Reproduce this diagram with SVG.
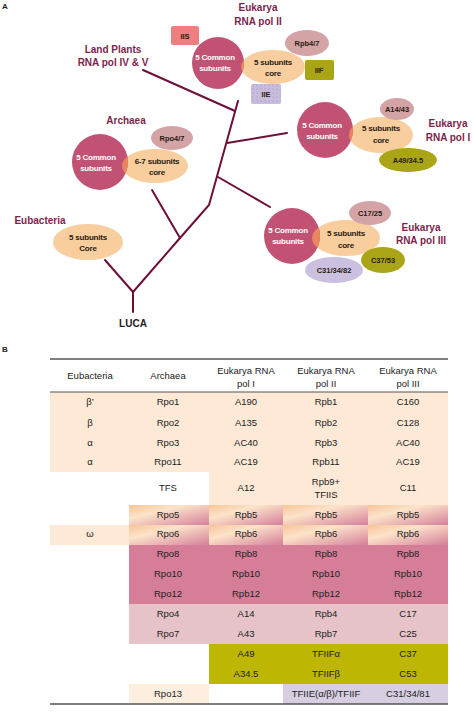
<svg xmlns="http://www.w3.org/2000/svg" width="474" height="716" viewBox="0 0 474 716">
<style>
text{font-family:"Liberation Sans",Arial,sans-serif;text-anchor:middle}
.lbl{font-size:10px;font-weight:bold;fill:#7D1F4C}
.cw{font-size:8px;font-weight:bold;fill:#ffffff;letter-spacing:-0.2px}
.cd{font-size:8px;font-weight:bold;fill:#2a1a10;letter-spacing:-0.2px}
.sm{font-size:7.5px;font-weight:bold;fill:#2a1a10}
.big{fill:#C2527398}
.big{fill:#C25273}
.core{fill:#F9CE9F}
.ovl{fill:#E8875E}
.rp{fill:#D3A3A6}
.ol{fill:#A9A516}
.lav{fill:#CBC0DF}
.br{stroke:#6E0F3A;stroke-width:2;fill:none;stroke-linecap:round}
.t{font-size:9.5px;fill:#222}
.h{font-size:9.5px;fill:#222}
</style>
<defs>
<clipPath id="c2"><circle cx="218" cy="63" r="26"/></clipPath>
<clipPath id="c1"><circle cx="325" cy="130" r="28"/></clipPath>
<clipPath id="c3"><circle cx="292" cy="236" r="28"/></clipPath>
<clipPath id="ca"><circle cx="100" cy="162" r="28"/></clipPath>
<pattern id="dots" width="4" height="4" patternUnits="userSpaceOnUse">
<rect width="4" height="4" fill="#C8BCDD"/><circle cx="1" cy="1" r="0.6" fill="#9C8DBB"/>
</pattern>
<linearGradient id="g" x1="0" y1="0" x2="1" y2="1">
<stop offset="0" stop-color="#F8C497"/><stop offset="0.35" stop-color="#FCE3C9"/><stop offset="1" stop-color="#D5809A"/>
</linearGradient>
</defs>

<text x="5" y="9" style="font-size:8px;font-weight:bold;fill:#222">A</text>

<g id="connectors">
<line class="br" x1="133" y1="312" x2="133" y2="292"/>
<line class="br" x1="133" y1="292" x2="105" y2="260"/>
<polyline class="br" points="133,292 180,238 209,205 238,101"/>
<line class="br" x1="180" y1="238" x2="152" y2="190"/>
<line class="br" x1="218" y1="177" x2="270" y2="207"/>
<line class="br" x1="227" y1="143" x2="287" y2="133"/>
<line class="br" x1="143" y1="70" x2="235" y2="111"/>
</g>

<g id="luca"><text x="133" y="327" style="font-size:10px;font-weight:bold;fill:#222">LUCA</text></g>

<g id="eubacteria">
<text class="lbl" x="40" y="224">Eubacteria</text>
<ellipse class="core" cx="88" cy="242" rx="35" ry="18"/>
<text class="cd" x="88" y="240">5 subunits</text>
<text class="cd" x="88" y="251">Core</text>
</g>

<g id="archaea">
<text class="lbl" x="126" y="124">Archaea</text>
<ellipse class="core" cx="155" cy="166" rx="33" ry="17"/>
<circle class="big" cx="100" cy="162" r="28"/>
<ellipse class="ovl" cx="155" cy="166" rx="33" ry="17" clip-path="url(#ca)"/>
<ellipse class="rp" cx="172" cy="138" rx="21" ry="12"/>
<text class="sm" x="172" y="141">Rpo4/7</text>
<text class="cw" x="96" y="160">5 Common</text>
<text class="cw" x="96" y="171">subunits</text>
<text class="cd" x="157" y="164">6-7 subunits</text>
<text class="cd" x="157" y="175">core</text>
</g>

<g id="landplants">
<text class="lbl" x="113" y="53">Land Plants</text>
<text class="lbl" x="113" y="66">RNA pol IV &amp; V</text>
</g>

<g id="pol2">
<text class="lbl" x="258" y="11">Eukarya</text>
<text class="lbl" x="258" y="25">RNA pol II</text>
<rect x="171" y="26" width="28" height="19" rx="2" fill="#EE7F80"/>
<text class="sm" x="185" y="39">IIS</text>
<ellipse class="core" cx="273" cy="67" rx="32" ry="17"/>
<circle class="big" cx="218" cy="63" r="26"/>
<ellipse class="ovl" cx="273" cy="67" rx="32" ry="17" clip-path="url(#c2)"/>
<ellipse class="rp" cx="307" cy="43" rx="22" ry="13"/>
<text class="sm" x="307" y="46">Rpb4/7</text>
<rect x="305" y="60" width="29" height="20" rx="2" class="ol"/>
<text class="sm" x="319" y="73">IIF</text>
<rect x="251" y="84" width="30" height="20" rx="2" fill="url(#dots)"/>
<text class="sm" x="266" y="97">IIE</text>
<text class="cw" x="215" y="60">5 Common</text>
<text class="cw" x="215" y="71">subunits</text>
<text class="cd" x="273" y="65">5 subunits</text>
<text class="cd" x="273" y="76">core</text>
</g>

<g id="pol1">
<text class="lbl" x="448" y="127">Eukarya</text>
<text class="lbl" x="448" y="141">RNA pol I</text>
<ellipse class="core" cx="381" cy="135" rx="32" ry="18"/>
<circle class="big" cx="325" cy="130" r="28"/>
<ellipse class="ovl" cx="381" cy="135" rx="32" ry="18" clip-path="url(#c1)"/>
<ellipse class="rp" cx="397" cy="109" rx="17" ry="11"/>
<text class="sm" x="397" y="112">A14/43</text>
<ellipse class="ol" cx="408" cy="160" rx="29" ry="12"/>
<text class="sm" x="408" y="163">A49/34.5</text>
<text class="cw" x="322" y="128">5 Common</text>
<text class="cw" x="322" y="139">subunits</text>
<text class="cd" x="381" y="131">5 subunits</text>
<text class="cd" x="381" y="143">core</text>
</g>

<g id="pol3">
<text class="lbl" x="421" y="231">Eukarya</text>
<text class="lbl" x="421" y="244">RNA pol III</text>
<ellipse class="core" cx="346" cy="238" rx="34" ry="18"/>
<circle class="big" cx="292" cy="236" r="28"/>
<ellipse class="ovl" cx="346" cy="238" rx="34" ry="18" clip-path="url(#c3)"/>
<ellipse class="rp" cx="370" cy="213" rx="21" ry="12"/>
<text class="sm" x="370" y="216">C17/25</text>
<ellipse class="lav" cx="334" cy="270" rx="29" ry="13"/>
<text class="sm" x="334" y="273">C31/34/82</text>
<ellipse class="ol" cx="383" cy="260" rx="22" ry="13"/>
<text class="sm" x="383" y="263">C37/53</text>
<text class="cw" x="288" y="233">5 Common</text>
<text class="cw" x="288" y="244">subunits</text>
<text class="cd" x="346" y="236">5 subunits</text>
<text class="cd" x="346" y="248">core</text>
</g>

<text x="5" y="352" style="font-size:8px;font-weight:bold;fill:#222">B</text>

<g id="table">
<rect x="50" y="392" width="398" height="80" fill="#FDE9D6"/>
<rect x="209" y="472" width="239" height="33" fill="#FDE9D6"/>
<rect x="50" y="525" width="79" height="20" fill="#FDE9D6"/>
<rect x="129" y="505" width="80" height="20" fill="url(#g)"/>
<rect x="209" y="505" width="74" height="20" fill="url(#g)"/>
<rect x="283" y="505" width="85" height="20" fill="url(#g)"/>
<rect x="368" y="505" width="80" height="20" fill="url(#g)"/>
<rect x="129" y="525" width="80" height="20" fill="url(#g)"/>
<rect x="209" y="525" width="74" height="20" fill="url(#g)"/>
<rect x="283" y="525" width="85" height="20" fill="url(#g)"/>
<rect x="368" y="525" width="80" height="20" fill="url(#g)"/>
<rect x="129" y="545" width="319" height="59" fill="#D67D98"/>
<rect x="129" y="604" width="319" height="40" fill="#E6C3C8"/>
<rect x="209" y="644" width="239" height="40" fill="#BDB603"/>
<rect x="129" y="684" width="80" height="20" fill="#FDEEE0"/>
<rect x="283" y="684" width="165" height="20" fill="#D7CEE2"/>
<line x1="50" y1="359" x2="448" y2="359" stroke="#555" stroke-width="1.5"/>
<line x1="50" y1="392" x2="448" y2="392" stroke="#555" stroke-width="1.2"/>
<line x1="50" y1="704" x2="448" y2="704" stroke="#555" stroke-width="1.5"/>

<text class="h" x="90" y="379">Eubacteria</text>
<text class="h" x="168" y="379">Archaea</text>
<text class="h" x="246" y="374">Eukarya RNA</text><text class="h" x="246" y="387">pol I</text>
<text class="h" x="326" y="374">Eukarya RNA</text><text class="h" x="326" y="387">pol II</text>
<text class="h" x="408" y="374">Eukarya RNA</text><text class="h" x="408" y="387">pol III</text>

<text class="t" x="90" y="405">β’</text><text class="t" x="168" y="405">Rpo1</text><text class="t" x="246" y="405">A190</text><text class="t" x="326" y="405">Rpb1</text><text class="t" x="408" y="405">C160</text>
<text class="t" x="90" y="426">β</text><text class="t" x="168" y="426">Rpo2</text><text class="t" x="246" y="426">A135</text><text class="t" x="326" y="426">Rpb2</text><text class="t" x="408" y="426">C128</text>
<text class="t" x="90" y="446">α</text><text class="t" x="168" y="446">Rpo3</text><text class="t" x="246" y="446">AC40</text><text class="t" x="326" y="446">Rpb3</text><text class="t" x="408" y="446">AC40</text>
<text class="t" x="90" y="465">α</text><text class="t" x="168" y="465">Rpo11</text><text class="t" x="246" y="465">AC19</text><text class="t" x="326" y="465">Rpb11</text><text class="t" x="408" y="465">AC19</text>
<text class="t" x="168" y="491">TFS</text><text class="t" x="246" y="491">A12</text><text class="t" x="326" y="485">Rpb9+</text><text class="t" x="326" y="498">TFIIS</text><text class="t" x="408" y="491">C11</text>
<text class="t" x="168" y="518">Rpo5</text><text class="t" x="246" y="518">Rpb5</text><text class="t" x="326" y="518">Rpb5</text><text class="t" x="408" y="518">Rpb5</text>
<text class="t" x="90" y="537">ω</text><text class="t" x="168" y="537">Rpo6</text><text class="t" x="246" y="537">Rpb6</text><text class="t" x="326" y="537">Rpb6</text><text class="t" x="408" y="537">Rpb6</text>
<text class="t" x="168" y="557">Rpo8</text><text class="t" x="246" y="557">Rpb8</text><text class="t" x="326" y="557">Rpb8</text><text class="t" x="408" y="557">Rpb8</text>
<text class="t" x="168" y="577">Rpo10</text><text class="t" x="246" y="577">Rpb10</text><text class="t" x="326" y="577">Rpb10</text><text class="t" x="408" y="577">Rpb10</text>
<text class="t" x="168" y="597">Rpo12</text><text class="t" x="246" y="597">Rpb12</text><text class="t" x="326" y="597">Rpb12</text><text class="t" x="408" y="597">Rpb12</text>
<text class="t" x="168" y="617">Rpo4</text><text class="t" x="246" y="617">A14</text><text class="t" x="326" y="617">Rpb4</text><text class="t" x="408" y="617">C17</text>
<text class="t" x="168" y="637">Rpo7</text><text class="t" x="246" y="637">A43</text><text class="t" x="326" y="637">Rpb7</text><text class="t" x="408" y="637">C25</text>
<text class="t" x="246" y="657">A49</text><text class="t" x="326" y="657">TFIIFα</text><text class="t" x="408" y="657">C37</text>
<text class="t" x="246" y="677">A34.5</text><text class="t" x="326" y="677">TFIIFβ</text><text class="t" x="408" y="677">C53</text>
<text class="t" x="168" y="697">Rpo13</text><text class="t" x="326" y="697">TFIIE(α/β)/TFIIF</text><text class="t" x="408" y="697">C31/34/81</text>
</g>
</svg>
